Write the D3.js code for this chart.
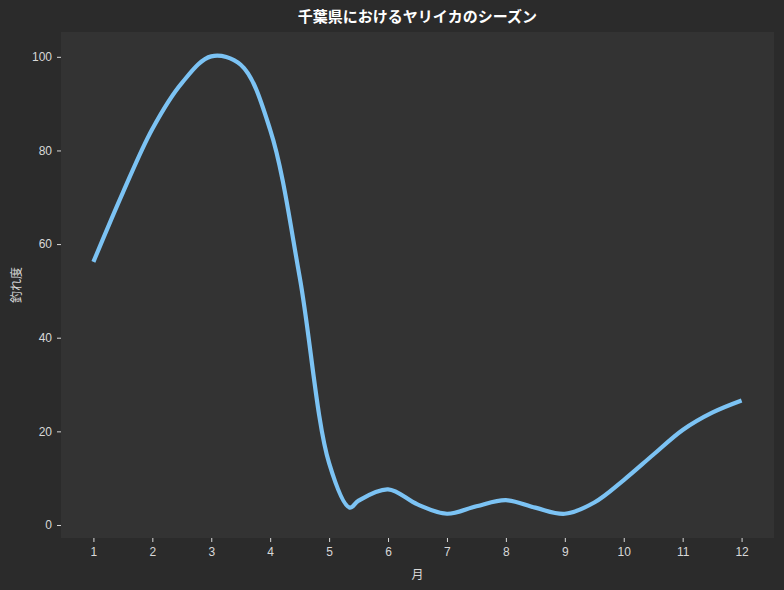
<!DOCTYPE html>
<html><head><meta charset="utf-8">
<script src="https://cdn.jsdelivr.net/npm/d3@7"></script>
<style>
html,body{margin:0;padding:0;background:#2b2b2b;}
svg{display:block;font-family:"Noto Sans CJK JP","Noto Sans",sans-serif;}
</style></head><body>
<svg id="chart" width="784" height="590"></svg>
<script>
const title = "千葉県におけるヤリイカのシーズン";
const xLabel = "月";
const yLabel = "釣れ度";
const months = [1,1.5,2,2.5,3,3.5,4,4.5,5,5.35,5.5,6,6.5,7,7.5,8,8.5,9,9.5,10,10.5,11,11.5,12];
const values = [56.2,71,84.6,94.4,100.1,98.3,84.4,53,13.2,3.7,5.2,7.6,4.4,2.4,4.0,5.3,3.7,2.4,4.8,9.6,15,20.3,24,26.6];
const xTicks = [1,2,3,4,5,6,7,8,9,10,11,12];
const yTicks = [0,20,40,60,80,100];

const W = 784, H = 590;
const m = {left:61, right:10, top:32, bottom:52};
const svg = d3.select("#chart");
svg.append("rect").attr("width",W).attr("height",H).attr("fill","#2b2b2b");

const x = d3.scaleLinear().domain([0.45,12.55]).range([m.left, W-m.right]);
const y = d3.scaleLinear().domain([-2.78,105.3]).range([H-m.bottom, m.top]);

svg.append("rect").attr("x",m.left).attr("y",m.top)
  .attr("width",W-m.left-m.right).attr("height",H-m.top-m.bottom).attr("fill","#333333");

const xa = svg.append("g").attr("transform",`translate(0,${H-m.bottom})`)
  .call(d3.axisBottom(x).tickValues(xTicks).tickFormat(d3.format("d")).tickSize(4).tickPadding(5));
const ya = svg.append("g").attr("transform",`translate(${m.left},0)`)
  .call(d3.axisLeft(y).tickValues(yTicks).tickFormat(d3.format("d")).tickSize(4).tickPadding(5));
[xa,ya].forEach(a=>{
  a.select(".domain").remove();
  a.selectAll(".tick line").attr("stroke","#d8d8d8");
  a.selectAll(".tick text").attr("fill","#d8d8d8").style("font-size","12px");
});

const line = d3.line().x((d,i)=>x(months[i])).y(d=>y(d)).curve(d3.curveCatmullRom.alpha(0.5));
svg.append("path").datum(values).attr("d",line)
  .attr("fill","none").attr("stroke","#7cc3f4").attr("stroke-width",4.2)
  .attr("stroke-linecap","butt").attr("stroke-linejoin","round");

svg.append("text").attr("x",(m.left+W-m.right)/2).attr("y",22)
  .attr("text-anchor","middle").attr("fill","#ffffff")
  .style("font-size","15px").style("font-weight","bold").text(title);
svg.append("text").attr("x",(m.left+W-m.right)/2).attr("y",579)
  .attr("text-anchor","middle").attr("fill","#d8d8d8").style("font-size","12px").text(xLabel);
svg.append("text").attr("transform",`translate(21,${(m.top+H-m.bottom)/2}) rotate(-90)`)
  .attr("text-anchor","middle").attr("fill","#d8d8d8").style("font-size","12px").text(yLabel);
</script>
</body></html>
